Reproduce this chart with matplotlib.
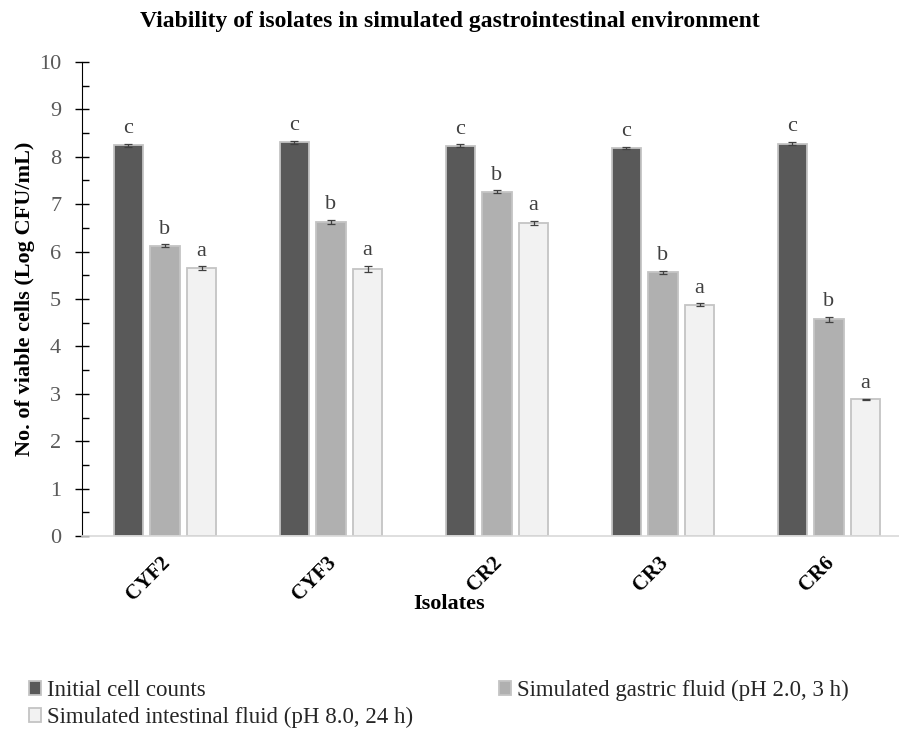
import matplotlib
matplotlib.use('agg')
import matplotlib.pyplot as plt
import matplotlib.transforms as mtrans
import numpy as np

isolates = ["CYF2", "CYF3", "CR2", "CR3", "CR6"]
initial = [8.24, 8.31, 8.23, 8.19, 8.28]
gastric = [6.12, 6.63, 7.26, 5.56, 4.57]
intestinal = [5.65, 5.64, 6.61, 4.88, 2.88]
err_initial = [0.03, 0.03, 0.03, 0.02, 0.03]
err_gastric = [0.03, 0.04, 0.03, 0.03, 0.06]
err_intestinal = [0.04, 0.06, 0.04, 0.03, 0.02]
letters = ["c", "b", "a"]

series = [
	("Initial cell counts", initial, err_initial, "#595959"),
	("Simulated gastric fluid (pH 2.0, 3 h)", gastric, err_gastric, "#b0b0b0"),
	("Simulated intestinal fluid (pH 8.0, 24 h)", intestinal, err_intestinal, "#f2f2f2"),
]

serif = "Liberation Serif"

fig = plt.figure(figsize=(8.99, 7.29), dpi=100)
ax = fig.add_axes([82 / 899, 1 - 536 / 729, 830 / 899, 474 / 729])

x = np.arange(len(isolates))
step = 0.22
width = 0.18
bars = []
for i, (name, vals, errs, col) in enumerate(series):
	pos = x + (i - 1) * step
	b = ax.bar(pos, vals, width, color=col, edgecolor="#c4c4c4", linewidth=1.3,
		yerr=errs, capsize=3, error_kw=dict(ecolor="#404040", elinewidth=0.9, capthick=0.9),
		label=name, zorder=2)
	bars.append(b)
	for p, v, e in zip(pos, vals, errs):
		ax.text(p, v + e + 0.12, letters[i], ha="center", va="bottom",
			fontsize=16, family=serif, color="#404040")

ax.set_xlim(-0.5, 4.5)
ax.set_ylim(0, 10)
ax.set_yticks(np.arange(0, 11, 1))
ax.set_yticks(np.arange(0.5, 10, 1), minor=True)
ax.tick_params(axis="y", which="major", direction="inout", length=10, width=1,
	labelsize=16, labelcolor="#595959", pad=10)
ax.tick_params(axis="y", which="minor", direction="in", length=5, width=1)
for lab in ax.get_yticklabels():
	lab.set_family(serif)

ax.set_xticks(x)
ax.set_xticklabels(isolates, rotation=45, ha="right", rotation_mode="anchor",
	fontsize=15, fontweight="bold", family=serif)
ax.tick_params(axis="x", length=0, pad=13)
shift = mtrans.ScaledTranslation(-5 / 100, 1 / 100, fig.dpi_scale_trans)
for lab in ax.get_xticklabels():
	lab.set_transform(lab.get_transform() + shift)

for s in ["top", "right"]:
	ax.spines[s].set_visible(False)
ax.spines["bottom"].set_color("#d9d9d9")
ax.spines["bottom"].set_linewidth(1.2)
ax.spines["left"].set_color("black")

ax.set_ylabel("No. of viable cells (Log CFU/mL)", fontsize=16, fontweight="bold",
	family=serif, labelpad=3)
fig.text(0.5, 1 - 604 / 729, "Isolates", ha="center", va="center", fontsize=16,
	fontweight="bold", family=serif)
fig.text(0.5, 1 - 22 / 729, "Viability of isolates in simulated gastrointestinal environment",
	ha="center", va="center", fontsize=17, fontweight="bold", family=serif)

handles = [bars[0], bars[2], bars[1]]
labels = [series[0][0], series[2][0], series[1][0]]
leg = fig.legend(handles, labels, loc="upper left", bbox_to_anchor=(29 / 899, 1 - 680 / 729),
	ncol=2, frameon=False, prop=dict(family=serif, size=16.5),
	handlelength=0.53, handleheight=0.53, handletextpad=0.25, columnspacing=3.75,
	labelspacing=0.25, borderaxespad=0, borderpad=0)
for t in leg.get_texts():
	t.set_color("#262626")

fig.savefig("out.png", dpi=100)
